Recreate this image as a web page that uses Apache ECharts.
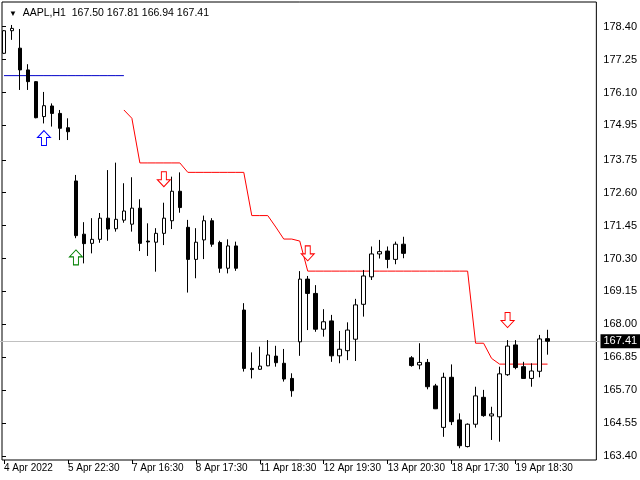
<!DOCTYPE html>
<html><head><meta charset="utf-8">
<script src="https://cdn.jsdelivr.net/npm/echarts@6/dist/echarts.min.js"></script>
<style>html,body{margin:0;padding:0;background:#fff}#c{width:640px;height:480px}</style>
</head><body><div id="c"></div>
<script>
const symbolName = 'AAPL,H1';
const timeLabels = ['4 Apr 2022','5 Apr 22:30','7 Apr 16:30','8 Apr 17:30','11 Apr 18:30','12 Apr 19:30','13 Apr 20:30','18 Apr 17:30','19 Apr 18:30'];
const labelEvery = 8;
const rightShiftBars = 6;

const opens  = [177.47,178.26,177.65,176.89,176.48,175.26,175.63,175.37,174.87,173.01,
                171.15,170.83,170.97,171.71,171.34,171.64,171.50,172.06,170.91,170.87,
                171.18,171.62,172.65,171.39,170.27,170.95,171.62,170.86,169.96,170.74,
                168.50,166.46,166.43,166.55,166.89,166.64,166.11,167.39,169.58,169.08,
                167.83,168.12,166.90,167.08,167.48,168.70,169.66,170.46,170.56,170.27,
                170.80,166.83,166.58,166.67,165.85,164.40,166.15,164.66,163.73,164.51,
                165.45,164.80,164.77,166.24,167.28,166.52,166.11,166.36,167.50];
const highs  = [178.28,178.46,178.32,177.09,176.50,176.12,175.72,175.49,175.20,173.22,
                171.57,171.71,171.89,173.39,173.65,172.93,173.14,172.37,171.53,171.36,
                172.25,173.16,173.31,171.65,171.36,171.80,171.71,170.92,170.97,170.89,
                168.74,167.02,167.22,167.45,167.25,167.14,166.29,169.86,169.69,169.37,
                168.53,168.33,167.77,168.07,168.89,169.90,170.72,170.95,170.72,170.89,
                171.06,166.89,167.34,166.79,165.92,166.31,166.60,164.89,164.54,165.82,
                165.71,165.12,166.52,167.45,167.45,166.69,166.64,167.63,167.81];
const lows   = [177.45,177.94,176.19,176.19,175.20,175.02,174.91,174.44,174.44,171.01,
                170.13,170.48,170.85,170.92,171.24,171.55,171.24,170.56,170.39,169.84,
                170.77,171.33,171.90,169.11,169.61,170.28,170.71,169.80,169.78,169.87,
                166.35,166.11,166.41,166.54,166.52,166.00,165.47,166.90,167.80,167.74,
                167.57,166.69,166.64,166.75,166.72,168.27,169.55,170.30,169.96,170.10,
                170.31,166.52,166.43,165.73,165.04,164.07,164.48,163.67,163.70,164.39,
                164.77,163.96,163.90,166.20,166.43,166.11,165.82,166.15,166.94];
const closes = [178.26,178.34,176.89,176.48,175.22,175.64,175.37,174.85,174.73,171.10,
                170.82,170.97,171.71,171.33,171.67,171.96,172.06,170.83,170.88,171.18,
                171.71,172.65,172.08,170.27,170.87,171.62,170.80,169.96,170.74,169.96,
                166.46,166.42,166.54,166.93,166.66,166.09,165.68,169.58,169.08,167.83,
                168.09,166.90,167.13,167.80,168.68,169.69,170.46,170.54,170.27,170.80,
                170.48,166.56,166.67,165.82,165.05,166.15,164.60,163.76,164.51,165.50,
                164.81,164.87,166.27,167.24,166.49,166.11,166.37,167.49,167.41];

// red trailing line (one value per bar, null where not drawn)
const trailLine = [null,null,null,null,null,null,null,null,null,null,
                   null,null,null,null,null,175.49,175.20,173.64,173.64,173.64,
                   173.64,173.64,173.64,173.31,173.31,173.31,173.31,173.31,173.31,173.31,
                   173.31,171.80,171.80,171.80,171.40,170.98,170.98,170.91,169.86,169.86,
                   169.86,169.86,169.86,169.86,169.86,169.86,169.86,169.86,169.86,169.86,
                   169.86,169.86,169.86,169.86,169.86,169.86,169.86,169.86,169.86,167.34,
                   167.34,166.81,166.61,166.61,166.61,166.61,166.61,166.61,166.61];

// blue horizontal level
const levelValue = 176.69;
const levelFromBar = 0;
const levelToBar = 15;

// arrow signals [bar index, price]
const blueUpArrows  = [[5, 174.51]];
const greenUpArrows = [[9, 170.34]];
const redDownArrows = [[20, 173.07], [38, 170.48], [63, 168.15]];

const yTicks = [163.40,164.55,165.70,166.85,168.00,169.15,170.30,171.45,172.60,173.75,174.95,176.10,177.25,178.40];
const yMin = 163.26, yMax = 179.263;

const nBars = opens.length;
const nCats = nBars + rightShiftBars;
const categories = Array.from({length: nCats}, (_, i) => String(i));
const candleData = opens.map((o, i) => [o, closes[i], lows[i], highs[i]]);
const levelData = categories.map((_, i) => (i >= levelFromBar && i <= levelToBar) ? levelValue : null);
const last = nBars - 1;
const fmt = v => v.toFixed(2);

const upPath = 'path://M6.5,0 L13,7 L9,7 L9,15 L4,15 L4,7 L0,7 Z';
const downPath = 'path://M4,0 L9,0 L9,8 L13,8 L6.5,15 L0,8 L4,8 Z';
const FONT = 'Liberation Sans, Arial, sans-serif';

const chart = echarts.init(document.getElementById('c'), null, {renderer: 'canvas'});
chart.setOption({
  animation: false,
  backgroundColor: '#fff',
  title: {
    text: '{t|▼}  ' + symbolName + '  ' + [opens[last], highs[last], lows[last], closes[last]].map(fmt).join(' '),
    left: 4, top: 3,
    textStyle: {fontSize: 10.5, fontWeight: 'normal', color: '#000', fontFamily: FONT,
      rich: {t: {fontSize: 8, color: '#000'}}}
  },
  grid: [
    {left: -0.5, right: 40.5, top: 2, bottom: 20, show: false},
    {left: 2, right: 43, top: 2, bottom: 20, show: true, borderColor: '#000', borderWidth: 1, backgroundColor: 'transparent'}
  ],
  xAxis: [
    {type: 'category', gridIndex: 0, data: categories, boundaryGap: true,
     axisLine: {show: false},
     axisTick: {show: true, alignWithLabel: true, length: 4, lineStyle: {color: '#000'},
       interval: i => i % labelEvery === 0 && i / labelEvery < timeLabels.length},
     axisLabel: {show: true, align: 'left', margin: 3, fontSize: 10, color: '#000', fontFamily: FONT,
       interval: i => i % labelEvery === 0 && i / labelEvery < timeLabels.length,
       formatter: v => timeLabels[Number(v) / labelEvery] || ''},
     splitLine: {show: false}},
    {type: 'value', gridIndex: 1, min: 0, max: 1, show: false}
  ],
  yAxis: [
    {type: 'value', gridIndex: 0, min: yMin, max: yMax, show: false, splitLine: {show: false}},
    {type: 'value', gridIndex: 1, min: yMin, max: yMax, position: 'right',
     axisLine: {show: false},
     splitLine: {show: false},
     axisTick: {show: true, length: 4, lineStyle: {color: '#000'}, customValues: yTicks},
     axisLabel: {show: true, margin: 7, fontSize: 11, color: '#000', fontFamily: FONT,
       customValues: yTicks, formatter: v => fmt(v)}}
  ],
  series: [
    {type: 'line', xAxisIndex: 0, yAxisIndex: 0, data: levelData, symbol: 'none',
     lineStyle: {color: '#0000c8', width: 1}, z: 2, silent: true},
    {type: 'line', xAxisIndex: 0, yAxisIndex: 0, data: trailLine, symbol: 'none', connectNulls: false,
     lineStyle: {color: '#ff0000', width: 1}, z: 2, silent: true,
     markLine: {silent: true, symbol: ['none', 'none'], z: 1,
       lineStyle: {color: '#c0c0c0', width: 1, type: 'solid'},
       label: {show: true, position: 'end', distance: 1, formatter: fmt(closes[last]),
         backgroundColor: '#000', color: '#fff', padding: [2, 3, 1, 3], fontSize: 11, fontFamily: FONT},
       data: [{yAxis: closes[last]}]}},
    {type: 'candlestick', xAxisIndex: 0, yAxisIndex: 0, data: candleData, barWidth: 4, z: 3, silent: true,
     itemStyle: {color: '#fff', color0: '#000', borderColor: '#000', borderColor0: '#000', borderColorDoji: '#000', borderWidth: 1}},
    {type: 'scatter', xAxisIndex: 0, yAxisIndex: 0, data: blueUpArrows, symbol: upPath, symbolSize: [13, 15], z: 4,
     itemStyle: {color: '#fff', borderColor: '#0000ff', borderWidth: 1, opacity: 1}},
    {type: 'scatter', xAxisIndex: 0, yAxisIndex: 0, data: greenUpArrows, symbol: upPath, symbolSize: [13, 15], z: 4,
     itemStyle: {color: '#fff', borderColor: '#008000', borderWidth: 1, opacity: 1}},
    {type: 'scatter', xAxisIndex: 0, yAxisIndex: 0, data: redDownArrows, symbol: downPath, symbolSize: [13, 15], z: 4,
     itemStyle: {color: '#fff', borderColor: '#ff0000', borderWidth: 1, opacity: 1}}
  ]
});
</script></body></html>
